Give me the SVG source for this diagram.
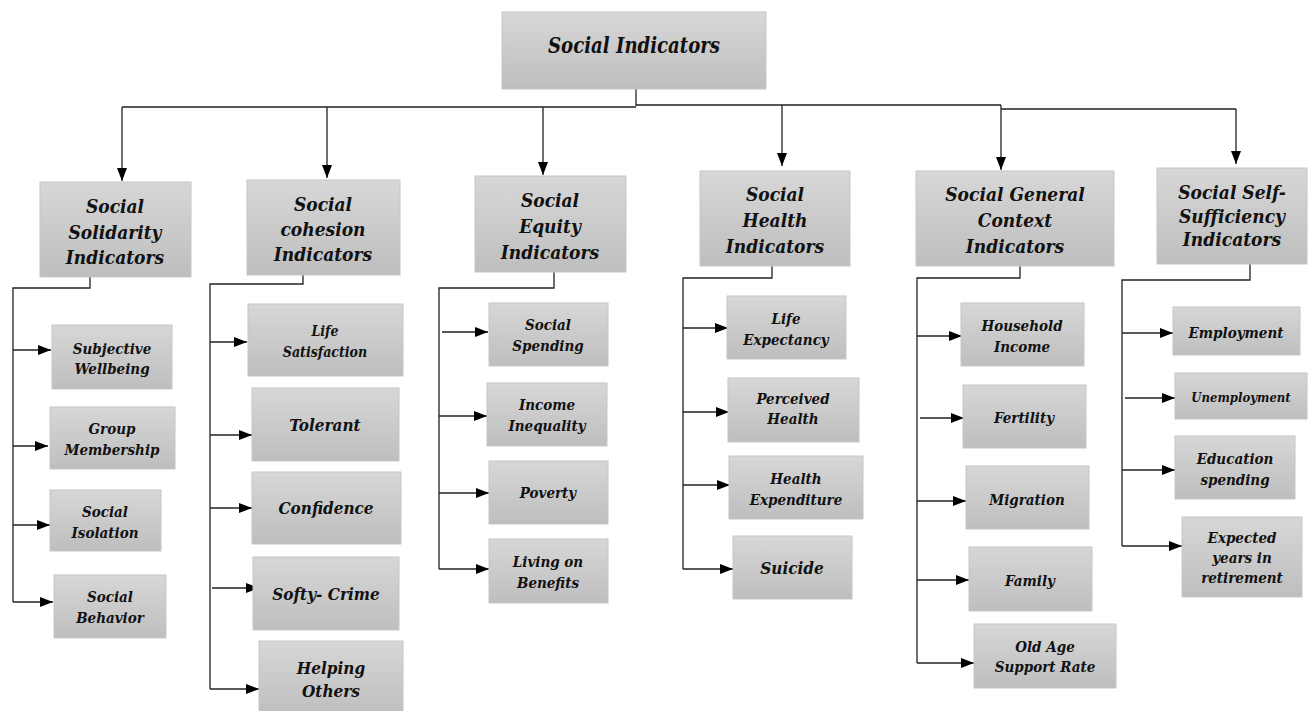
<svg xmlns="http://www.w3.org/2000/svg" width="1309" height="711" viewBox="0 0 1309 711">
  <defs>
    <linearGradient id="boxFill" x1="0" y1="0" x2="0" y2="1">
      <stop offset="0" stop-color="#d7d7d7"/>
      <stop offset="1" stop-color="#bebebe"/>
    </linearGradient>
    <marker id="arrow" viewBox="0 0 13 10" markerWidth="13" markerHeight="10" refX="13" refY="5" orient="auto" markerUnits="userSpaceOnUse">
      <path d="M0,0 L13,5 L0,10 z" fill="#000"/>
    </marker>
  </defs>
  <style>
    .box { fill: url(#boxFill); stroke: #c6c6c6; stroke-width: 1; }
    text { font-family: 'DejaVu Serif Condensed', 'DejaVu Serif', 'Liberation Serif', serif; font-stretch: condensed; font-weight: 700; font-style: italic; fill: #111; text-anchor: middle; }
    .title { font-size: 23px; }
    .cat { font-size: 19px; }
    .leaf { font-size: 15px; }
    .wire { fill: none; stroke: #222; stroke-width: 1.3; }
    .arr { fill: none; stroke: #222; stroke-width: 1.3; marker-end: url(#arrow); }
  </style>
  <rect width="1309" height="711" fill="#fff"/>

  <!-- connectors -->
  <g id="connectors">
    <!-- root to categories -->
    <path class="wire" d="M636,89 V106"/>
    <path class="wire" d="M122,107 H636 M636,105 H1001 M1001,109 H1236"/>
    <path class="arr" d="M122,107 V181"/>
    <path class="arr" d="M327,107 V178"/>
    <path class="arr" d="M543,107 V175"/>
    <path class="arr" d="M782,105 V166"/>
    <path class="arr" d="M1001,105 V170"/>
    <path class="arr" d="M1236,109 V164"/>

    <!-- solidarity -->
    <path class="wire" d="M90,277 V288 H13 V602"/>
    <path class="arr" d="M13,350 H51"/>
    <path class="arr" d="M13,446 H48"/>
    <path class="arr" d="M13,525 H50"/>
    <path class="arr" d="M13,602 H53"/>

    <!-- cohesion -->
    <path class="wire" d="M303,275 V284 H210 V689"/>
    <path class="arr" d="M210,342 H247"/>
    <path class="arr" d="M210,435 H252"/>
    <path class="arr" d="M210,508 H252"/>
    <path class="arr" d="M212,588 H259"/>
    <path class="arr" d="M210,689 H259"/>

    <!-- equity -->
    <path class="wire" d="M554,272 V288 H439 V569"/>
    <path class="arr" d="M442,332 H488"/>
    <path class="arr" d="M439,416 H487"/>
    <path class="arr" d="M439,493 H489"/>
    <path class="arr" d="M439,569 H489"/>

    <!-- health -->
    <path class="wire" d="M772,266 V278 H683 V569"/>
    <path class="arr" d="M683,328 H728"/>
    <path class="arr" d="M683,412 H729"/>
    <path class="arr" d="M683,485 H730"/>
    <path class="arr" d="M683,569 H733"/>

    <!-- general context -->
    <path class="wire" d="M1020,266 V278 H917 V663"/>
    <path class="arr" d="M917,336 H962"/>
    <path class="arr" d="M920,418 H964"/>
    <path class="arr" d="M917,501 H966"/>
    <path class="arr" d="M917,580 H969"/>
    <path class="arr" d="M917,663 H974"/>

    <!-- self-sufficiency -->
    <path class="wire" d="M1250,264 V280 H1122 V546"/>
    <path class="arr" d="M1122,333 H1173"/>
    <path class="arr" d="M1125,398 H1175"/>
    <path class="arr" d="M1122,470 H1175"/>
    <path class="arr" d="M1122,546 H1182"/>
  </g>

  <!-- root -->
  <g id="root">
    <rect class="box" x="502" y="12" width="264" height="77"/>
    <text class="title" x="634" y="53" textLength="172" lengthAdjust="spacingAndGlyphs">Social Indicators</text>
  </g>

  <!-- categories -->
  <g id="cat-solidarity">
    <rect class="box" x="40" y="182" width="151" height="95"/>
    <text class="cat" x="115" y="213">Social</text>
    <text class="cat" x="115" y="239">Solidarity</text>
    <text class="cat" x="115" y="264">Indicators</text>
  </g>
  <g id="cat-cohesion">
    <rect class="box" x="247" y="180" width="153" height="95"/>
    <text class="cat" x="323" y="211">Social</text>
    <text class="cat" x="323" y="236">cohesion</text>
    <text class="cat" x="323" y="261">Indicators</text>
  </g>
  <g id="cat-equity">
    <rect class="box" x="475" y="176" width="151" height="96"/>
    <text class="cat" x="550" y="207">Social</text>
    <text class="cat" x="550" y="233">Equity</text>
    <text class="cat" x="550" y="259">Indicators</text>
  </g>
  <g id="cat-health">
    <rect class="box" x="700" y="171" width="150" height="95"/>
    <text class="cat" x="775" y="201">Social</text>
    <text class="cat" x="775" y="227">Health</text>
    <text class="cat" x="775" y="253">Indicators</text>
  </g>
  <g id="cat-context">
    <rect class="box" x="916" y="171" width="198" height="95"/>
    <text class="cat" x="1015" y="201">Social General</text>
    <text class="cat" x="1015" y="227">Context</text>
    <text class="cat" x="1015" y="253">Indicators</text>
  </g>
  <g id="cat-selfsufficiency">
    <rect class="box" x="1157" y="168" width="150" height="96"/>
    <text class="cat" x="1232" y="199">Social Self-</text>
    <text class="cat" x="1232" y="223">Sufficiency</text>
    <text class="cat" x="1232" y="246">Indicators</text>
  </g>

  <!-- solidarity leaves -->
  <g id="subjective-wellbeing">
    <rect class="box" x="52" y="325" width="120" height="64"/>
    <text class="leaf" x="112" y="354">Subjective</text>
    <text class="leaf" x="112" y="374">Wellbeing</text>
  </g>
  <g id="group-membership">
    <rect class="box" x="50" y="407" width="125" height="62"/>
    <text class="leaf" x="112" y="434">Group</text>
    <text class="leaf" x="112" y="455">Membership</text>
  </g>
  <g id="social-isolation">
    <rect class="box" x="50" y="490" width="111" height="61"/>
    <text class="leaf" x="105" y="517">Social</text>
    <text class="leaf" x="105" y="538">Isolation</text>
  </g>
  <g id="social-behavior">
    <rect class="box" x="54" y="575" width="112" height="63"/>
    <text class="leaf" x="110" y="602">Social</text>
    <text class="leaf" x="110" y="623">Behavior</text>
  </g>

  <!-- cohesion leaves -->
  <g id="life-satisfaction">
    <rect class="box" x="248" y="304" width="155" height="72"/>
    <text class="leaf" x="325" y="336" style="font-size:14px">Life</text>
    <text class="leaf" x="325" y="357" style="font-size:14px">Satisfaction</text>
  </g>
  <g id="tolerant">
    <rect class="box" x="252" y="388" width="147" height="73"/>
    <text class="leaf" x="325" y="431" style="font-size:17px">Tolerant</text>
  </g>
  <g id="confidence">
    <rect class="box" x="252" y="472" width="149" height="72"/>
    <text class="leaf" x="326" y="514" style="font-size:17px">Confidence</text>
  </g>
  <g id="softy-crime">
    <rect class="box" x="253" y="557" width="146" height="73"/>
    <text class="leaf" x="326" y="600" style="font-size:17px">Softy- Crime</text>
  </g>
  <g id="helping-others">
    <rect class="box" x="259" y="641" width="144" height="75"/>
    <text class="leaf" x="331" y="674" style="font-size:17px">Helping</text>
    <text class="leaf" x="331" y="697" style="font-size:17px">Others</text>
  </g>

  <!-- equity leaves -->
  <g id="social-spending">
    <rect class="box" x="489" y="303" width="119" height="63"/>
    <text class="leaf" x="548" y="330">Social</text>
    <text class="leaf" x="548" y="351">Spending</text>
  </g>
  <g id="income-inequality">
    <rect class="box" x="487" y="383" width="120" height="63"/>
    <text class="leaf" x="547" y="410">Income</text>
    <text class="leaf" x="547" y="431">Inequality</text>
  </g>
  <g id="poverty">
    <rect class="box" x="489" y="461" width="119" height="63"/>
    <text class="leaf" x="548" y="498">Poverty</text>
  </g>
  <g id="living-on-benefits">
    <rect class="box" x="489" y="539" width="119" height="64"/>
    <text class="leaf" x="548" y="567">Living on</text>
    <text class="leaf" x="548" y="588">Benefits</text>
  </g>

  <!-- health leaves -->
  <g id="life-expectancy">
    <rect class="box" x="727" y="296" width="119" height="63"/>
    <text class="leaf" x="786" y="324">Life</text>
    <text class="leaf" x="786" y="345">Expectancy</text>
  </g>
  <g id="perceived-health">
    <rect class="box" x="728" y="378" width="131" height="64"/>
    <text class="leaf" x="793" y="404">Perceived</text>
    <text class="leaf" x="793" y="424">Health</text>
  </g>
  <g id="health-expenditure">
    <rect class="box" x="729" y="456" width="134" height="63"/>
    <text class="leaf" x="796" y="484">Health</text>
    <text class="leaf" x="796" y="505">Expenditure</text>
  </g>
  <g id="suicide">
    <rect class="box" x="733" y="536" width="119" height="63"/>
    <text class="leaf" x="792" y="574" style="font-size:17px">Suicide</text>
  </g>

  <!-- general context leaves -->
  <g id="household-income">
    <rect class="box" x="961" y="303" width="123" height="63"/>
    <text class="leaf" x="1022" y="331">Household</text>
    <text class="leaf" x="1022" y="352">Income</text>
  </g>
  <g id="fertility">
    <rect class="box" x="963" y="385" width="123" height="63"/>
    <text class="leaf" x="1024" y="423">Fertility</text>
  </g>
  <g id="migration">
    <rect class="box" x="966" y="466" width="123" height="63"/>
    <text class="leaf" x="1027" y="505">Migration</text>
  </g>
  <g id="family">
    <rect class="box" x="969" y="547" width="123" height="64"/>
    <text class="leaf" x="1030" y="586">Family</text>
  </g>
  <g id="old-age-support-rate">
    <rect class="box" x="974" y="624" width="142" height="64"/>
    <text class="leaf" x="1045" y="652">Old Age</text>
    <text class="leaf" x="1045" y="672">Support Rate</text>
  </g>

  <!-- self-sufficiency leaves -->
  <g id="employment">
    <rect class="box" x="1173" y="307" width="127" height="48"/>
    <text class="leaf" x="1236" y="338">Employment</text>
  </g>
  <g id="unemployment">
    <rect class="box" x="1175" y="373" width="132" height="46"/>
    <text class="leaf" x="1241" y="402" style="font-size:13px">Unemployment</text>
  </g>
  <g id="education-spending">
    <rect class="box" x="1175" y="436" width="120" height="63"/>
    <text class="leaf" x="1235" y="464">Education</text>
    <text class="leaf" x="1235" y="485">spending</text>
  </g>
  <g id="expected-years-in-retirement">
    <rect class="box" x="1182" y="517" width="120" height="80"/>
    <text class="leaf" x="1242" y="543">Expected</text>
    <text class="leaf" x="1242" y="563">years in</text>
    <text class="leaf" x="1242" y="583">retirement</text>
  </g>
</svg>
